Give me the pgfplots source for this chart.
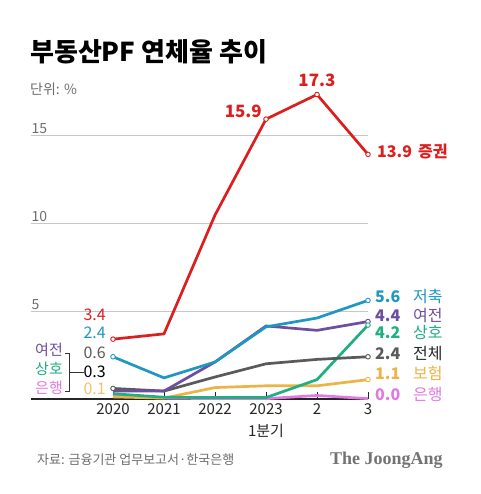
\documentclass[border=0pt]{standalone}
\usepackage{pgfplots}
\pgfplotsset{compat=1.18}
\usepackage{fontspec}
\setmainfont{Noto Sans CJK KR}
\newfontfamily\logofont{Liberation Serif}
\definecolor{cRed}{HTML}{DC1E1E}
\definecolor{cTeal}{HTML}{1E98C0}
\definecolor{cPurple}{HTML}{6E4EA0}
\definecolor{cGreen}{HTML}{1FAF80}
\definecolor{cGray}{HTML}{5A5A5A}
\definecolor{cYellow}{HTML}{EBB446}
\definecolor{cPink}{HTML}{E07AE0}
\definecolor{cText}{HTML}{6E6E6E}
\newcommand{\fs}[1]{\fontsize{#1}{#1}\selectfont}
\begin{document}
\begin{tikzpicture}[x=1pt,y=1pt]
\fill[white] (0,0) rectangle (480,494);
\node[anchor=base west, inner sep=0] at (30,432) {\fs{26}\bfseries 부동산PF 연체율 추이};
\node[anchor=base west, inner sep=0, text=cText] at (30,399) {\fs{14}단위: \%};
\begin{axis}[
  at={(31.4pt,95pt)}, anchor=south west,
  scale only axis, width=336.6pt, height=316.8pt,
  xmin=-1.6, xmax=5, ymin=0, ymax=18,
  clip=false,
  axis lines*=left,
  y axis line style={draw=none},
  x axis line style={draw=black!85, line width=1.1pt},
  xtick={0,1,2,3,4,5},
  xticklabels={2020,2021,2022,{2023\\1분기},2,3},
  xtick align=inside,
  major tick length=7pt,
  xtick style={draw=black!85, line width=0.9pt},
  xticklabel style={align=center, font=\fontsize{15}{22}\selectfont, text=black!85, anchor=north, yshift=-1pt},
  ytick={5,10,15},
  yticklabels={5,10,15},
  ytick style={draw=none},
  yticklabel style={anchor=south west, inner sep=1pt, font=\fs{14}, text=cText, xshift=-1pt},
  ymajorgrids,
  grid style={black!22, line width=0.7pt},
  /pgf/number format/assume math mode=true,
]
\addplot[cPink, line width=2.7pt] coordinates {(0,0.25) (1,0.05) (2,0.02) (3,0.02) (4,0.2) (5,0.02)};
\addplot[cYellow, line width=2.7pt] coordinates {(0,0.12) (1,0.05) (2,0.65) (3,0.75) (4,0.75) (5,1.1)};
\addplot[cGreen, line width=2.7pt] coordinates {(0,0.3) (1,0.1) (2,0.08) (3,0.08) (4,1.1) (5,4.2)};
\addplot[cGray, line width=2.7pt] coordinates {(0,0.6) (1,0.45) (2,1.25) (3,2.0) (4,2.25) (5,2.4)};
\addplot[cPurple, line width=2.7pt] coordinates {(0,0.45) (1,0.45) (2,2.1) (3,4.15) (4,3.9) (5,4.4)};
\addplot[cTeal, line width=2.7pt] coordinates {(0,2.4) (1,1.2) (2,2.1) (3,4.1) (4,4.6) (5,5.6)};
\addplot[cRed, line width=2.7pt] coordinates {(0,3.4) (1,3.7) (2,10.45) (3,15.9) (4,17.3) (5,13.9)};
% markers
\addplot[only marks, mark=*, mark size=2.3pt, mark options={fill=white, draw=cRed, line width=0.9pt}] coordinates {(0,3.4) (3,15.9) (4,17.3) (5,13.9)};
\addplot[only marks, mark=*, mark size=2.3pt, mark options={fill=white, draw=cTeal, line width=0.9pt}] coordinates {(0,2.4) (5,5.6)};
\addplot[only marks, mark=*, mark size=2.3pt, mark options={fill=white, draw=cGray, line width=0.9pt}] coordinates {(0,0.6) (5,2.4)};
\addplot[only marks, mark=*, mark size=2.3pt, mark options={fill=white, draw=cPurple, line width=0.9pt}] coordinates {(5,4.4)};
\addplot[only marks, mark=*, mark size=2.3pt, mark options={fill=white, draw=cGreen, line width=0.9pt}] coordinates {(5,4.2)};
\addplot[only marks, mark=*, mark size=2.3pt, mark options={fill=white, draw=cYellow, line width=0.9pt}] coordinates {(5,1.1)};
\end{axis}
% red labels
\node[anchor=mid east, inner sep=0, text=cRed] at (262,379) {\fs{17}\bfseries 15.9};
\node[anchor=mid, inner sep=0, text=cRed] at (317,410) {\fs{17}\bfseries 17.3};
\node[anchor=mid west, inner sep=0, text=cRed] at (377,339) {\fs{16}\bfseries 13.9};
\node[anchor=mid west, inner sep=0, text=cRed] at (418,339) {\fs{16}\bfseries 증권};
% right labels
\node[anchor=mid west, inner sep=0, text=cTeal] at (375,194) {\fs{16}\bfseries 5.6};
\node[anchor=mid west, inner sep=0, text=cTeal] at (413,194) {\fs{16}저축};
\node[anchor=mid west, inner sep=0, text=cPurple] at (375,175) {\fs{16}\bfseries 4.4};
\node[anchor=mid west, inner sep=0, text=cPurple] at (413,175) {\fs{16}여전};
\node[anchor=mid west, inner sep=0, text=cGreen] at (375,158) {\fs{16}\bfseries 4.2};
\node[anchor=mid west, inner sep=0, text=cGreen] at (413,158) {\fs{16}상호};
\node[anchor=mid west, inner sep=0, text=cGray] at (375,137) {\fs{16}\bfseries 2.4};
\node[anchor=mid west, inner sep=0, text=black!85] at (413,137) {\fs{16}전체};
\node[anchor=mid west, inner sep=0, text=cYellow] at (375,117) {\fs{16}\bfseries 1.1};
\node[anchor=mid west, inner sep=0, text=cYellow] at (413,117) {\fs{16}보험};
\node[anchor=mid west, inner sep=0, text=cPink] at (375,96) {\fs{16}\bfseries 0.0};
\node[anchor=mid west, inner sep=0, text=cPink] at (413,96) {\fs{16}은행};
% left labels
\node[anchor=mid east, inner sep=0, text=cRed] at (106,176) {\fs{16}3.4};
\node[anchor=mid east, inner sep=0, text=cTeal] at (106,158) {\fs{16}2.4};
\node[anchor=mid east, inner sep=0, text=cGray] at (106,138) {\fs{16}0.6};
\node[anchor=mid east, inner sep=0, text=black] at (106,119) {\fs{16}0.3};
\node[anchor=mid east, inner sep=0, text=cYellow!80] at (106,102) {\fs{16}0.1};
\node[anchor=mid east, inner sep=0, text=cPurple] at (63,141) {\fs{15}여전};
\node[anchor=mid east, inner sep=0, text=cGreen] at (63,122) {\fs{15}상호};
\node[anchor=mid east, inner sep=0, text=cPink] at (63,103) {\fs{15}은행};
\draw[black!80, line width=0.7pt] (65,141) -- (69,141) -- (69,103) -- (65,103);
\draw[black!80, line width=0.7pt] (69,122) -- (84,122);
% footer
\node[anchor=base west, inner sep=0, text=cText] at (37,29) {\fs{13}자료: 금융기관 업무보고서·한국은행};
\node[anchor=base west, inner sep=0, text=black!55] at (330,29) {\fs{18}\logofont\bfseries The JoongAng};
\end{tikzpicture}
\end{document}
